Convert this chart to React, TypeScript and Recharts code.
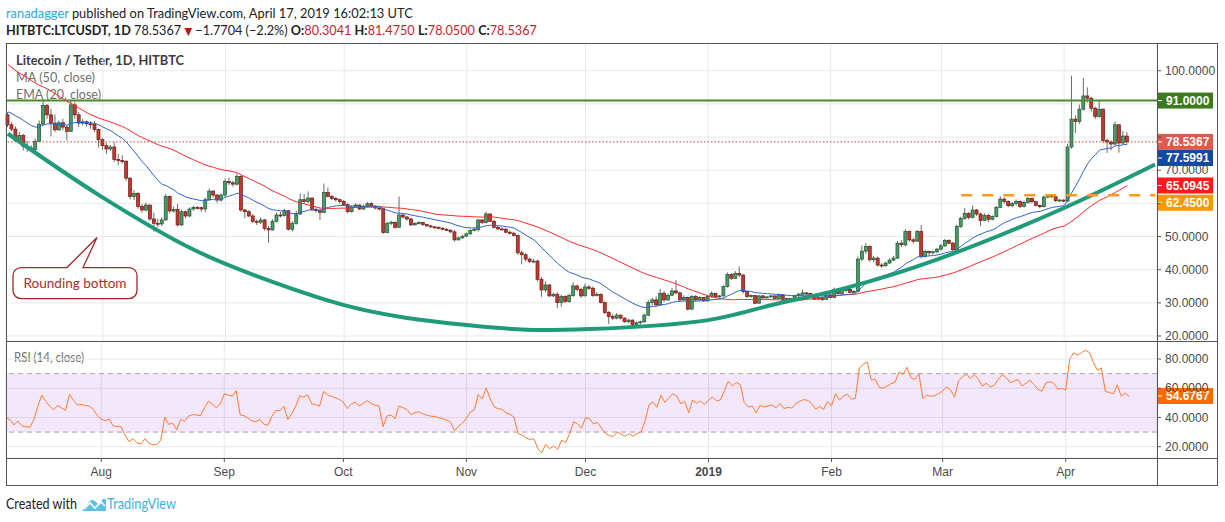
import React from "react";
import {
  ComposedChart,
  Bar,
  Line,
  XAxis,
  YAxis,
  CartesianGrid,
  ReferenceLine,
  ReferenceArea,
  ReferenceDot,
} from "recharts";

// LTC/USDT daily candles, HitBTC, 8 Jul 2018 .. 17 Apr 2019 (open = previous close)
const FIRST_DAY = Date.UTC(2018, 6, 8);
const EMPTY_DAYS_RIGHT = 7;

// closes before the first visible candle, only used to seed MA / EMA / RSI
const warmupCloses = [
  125, 130, 125, 118, 112, 116, 116, 116, 118, 112,
  119, 118, 120, 120, 123, 124, 117, 120, 121, 120,
  118, 116, 104, 106, 98, 94, 99, 95, 97, 95,
  98, 98, 98, 96, 86, 87, 82, 82, 78, 80,
  76, 79, 84, 83, 87, 87, 86, 84, 85, 86.7,
];

const closes = [
  83.7, 82.4, 79.0, 80.5, 77.2, 76.7, 76.3, 78.7, 83.9, 89.5,
  86.7, 84.2, 82.2, 84.3, 83.0, 81.7, 89.7, 86.7, 84.2, 84.6,
  84.0, 83.8, 82.3, 79.2, 77.4, 76.4, 77.0, 73.2, 72.9, 72.7,
  67.6, 62.1, 63.0, 59.1, 58.0, 59.5, 55.3, 54.0, 53.8, 55.0,
  62.1, 57.7, 58.2, 53.5, 57.5, 56.2, 58.3, 58.8, 58.7, 58.3,
  61.1, 63.7, 62.5, 61.0, 62.5, 66.6, 66.2, 65.8, 68.1, 58.0,
  57.5, 56.2, 54.6, 54.3, 55.0, 52.4, 52.0, 54.6, 56.5, 56.3,
  57.8, 52.2, 54.0, 56.8, 61.1, 60.6, 61.6, 58.2, 57.9, 57.3,
  63.3, 62.1, 61.5, 61.1, 60.6, 59.6, 57.5, 58.9, 59.5, 58.3,
  59.1, 59.9, 59.1, 58.6, 58.4, 51.2, 54.0, 54.3, 52.8, 56.5,
  55.9, 55.3, 53.5, 54.0, 54.2, 53.6, 53.2, 52.9, 52.8, 52.5,
  52.2, 51.9, 51.4, 49.0, 49.6, 50.1, 50.8, 51.8, 52.1, 55.0,
  54.2, 56.8, 54.6, 52.8, 52.3, 52.2, 51.3, 51.0, 50.3, 45.1,
  44.5, 43.2, 42.5, 42.6, 37.1, 33.9, 35.4, 32.1, 32.6, 30.1,
  31.9, 30.4, 32.2, 35.1, 34.1, 32.1, 34.8, 34.4, 32.2, 32.6,
  30.1, 27.1, 25.9, 25.4, 26.3, 25.4, 24.3, 24.8, 23.5, 24.0,
  24.3, 26.3, 30.1, 30.9, 29.4, 32.9, 30.9, 32.3, 33.6, 33.0,
  30.9, 31.6, 28.1, 31.9, 30.9, 31.6, 30.6, 31.9, 32.9, 31.8,
  32.1, 34.9, 38.6, 37.4, 38.9, 38.4, 33.4, 31.9, 32.2, 29.9,
  32.1, 31.5, 31.8, 32.1, 31.3, 32.4, 31.0, 31.3, 31.1, 32.1,
  32.6, 33.0, 32.8, 32.2, 31.1, 31.6, 31.0, 32.4, 31.6, 34.0,
  32.8, 33.7, 34.1, 33.2, 33.4, 43.2, 45.6, 47.0, 43.0, 43.5,
  41.4, 41.2, 42.0, 42.9, 43.5, 48.0, 47.5, 51.5, 49.0, 48.6,
  51.5, 44.0, 45.5, 45.1, 45.4, 46.2, 47.2, 48.8, 48.0, 46.0,
  53.0, 55.5, 57.0, 55.8, 58.0, 56.8, 54.8, 56.4, 55.2, 56.0,
  58.8, 61.3, 60.6, 59.3, 60.0, 60.6, 59.1, 60.3, 61.5, 60.5,
  59.4, 59.0, 61.9, 62.3, 62.0, 60.8, 61.0, 60.7, 77.0, 85.4,
  84.7, 88.4, 92.4, 91.7, 88.7, 86.2, 88.4, 79.0, 78.5, 77.9,
  83.7, 78.2, 80.3041, 78.5367,
];

const highs = [
  87.5, 84.5, 83.2, 81.5, 80.9, 78.8, 77.5, 79.5, 85.0, 91.5,
  90.0, 88.5, 86.8, 85.0, 85.5, 83.5, 91.0, 90.5, 87.5, 85.5,
  85.0, 84.8, 84.8, 82.5, 79.8, 78.2, 77.6, 78.4, 74.9, 74.5,
  73.0, 67.9, 64.0, 63.4, 59.8, 60.2, 59.6, 57.2, 55.4, 55.8,
  62.8, 62.4, 59.0, 59.8, 58.0, 57.8, 58.8, 59.3, 59.2, 59.0,
  61.8, 64.5, 64.0, 62.8, 63.0, 67.5, 67.8, 66.8, 69.0, 68.4,
  58.4, 57.9, 56.8, 55.2, 55.8, 55.3, 53.2, 55.2, 57.2, 57.4,
  58.4, 58.0, 54.6, 57.8, 63.0, 62.8, 63.6, 61.9, 58.8, 58.5,
  66.0, 64.8, 62.5, 62.0, 61.5, 61.0, 60.0, 59.4, 60.0, 59.7,
  59.6, 60.4, 60.4, 59.5, 59.0, 58.7, 54.5, 54.8, 54.6, 62.1,
  56.8, 56.2, 55.6, 54.3, 54.6, 54.5, 53.9, 53.5, 53.2, 53.0,
  52.8, 52.5, 52.2, 52.0, 50.0, 50.5, 51.2, 52.2, 52.8, 55.4,
  55.2, 57.5, 57.0, 55.0, 53.2, 52.8, 52.6, 51.8, 51.5, 50.6,
  45.8, 45.0, 43.6, 43.3, 43.0, 37.8, 36.5, 35.6, 33.0, 33.2,
  32.5, 32.3, 32.8, 36.2, 35.5, 34.6, 35.8, 35.3, 34.9, 33.2,
  32.8, 30.4, 27.5, 26.5, 26.9, 26.5, 25.6, 25.2, 25.0, 24.4,
  24.6, 26.8, 30.9, 31.6, 32.0, 34.2, 33.6, 32.8, 34.5, 36.9,
  33.4, 32.3, 31.9, 32.3, 32.4, 32.0, 31.8, 32.3, 33.4, 33.0,
  32.4, 35.3, 39.2, 38.9, 39.6, 41.0, 38.6, 33.6, 32.6, 32.4,
  32.4, 32.4, 32.0, 32.3, 32.2, 32.8, 32.6, 31.6, 31.5, 32.4,
  33.0, 34.0, 33.2, 33.0, 32.4, 31.9, 31.8, 32.7, 32.6, 34.6,
  34.4, 34.0, 34.5, 34.5, 33.8, 44.0, 47.3, 48.0, 47.3, 44.2,
  44.0, 42.0, 42.4, 43.4, 44.2, 48.7, 48.9, 52.2, 51.8, 49.6,
  52.0, 53.5, 46.0, 45.8, 45.8, 46.6, 47.8, 49.3, 49.2, 48.4,
  53.6, 56.0, 58.6, 57.4, 59.4, 58.3, 57.2, 57.0, 56.8, 56.4,
  59.2, 62.2, 61.8, 60.9, 60.4, 61.2, 60.9, 60.8, 61.9, 61.8,
  60.8, 59.6, 62.4, 62.7, 62.6, 62.2, 61.3, 61.2, 78.0, 98.5,
  86.5, 89.8, 97.8, 95.0, 92.2, 89.2, 91.0, 88.6, 79.6, 79.0,
  84.7, 83.9, 81.8, 81.475,
];

const lows = [
  83.0, 81.8, 78.5, 78.2, 76.0, 75.5, 75.8, 75.8, 78.5, 83.5,
  85.5, 80.2, 81.5, 81.8, 82.0, 79.0, 81.5, 85.5, 83.0, 83.5,
  83.2, 82.5, 81.5, 76.8, 76.2, 75.0, 75.8, 72.5, 71.5, 72.0,
  66.8, 61.2, 61.0, 58.4, 57.2, 57.5, 54.8, 51.5, 52.8, 53.2,
  54.8, 57.0, 57.2, 53.0, 53.2, 55.5, 55.8, 57.8, 58.2, 57.5,
  57.3, 60.8, 61.8, 60.2, 60.5, 62.0, 65.5, 65.0, 65.4, 57.5,
  55.5, 55.8, 54.0, 53.5, 53.8, 51.8, 48.1, 51.8, 54.2, 55.8,
  56.0, 51.8, 51.5, 53.6, 56.5, 59.8, 60.0, 57.8, 57.2, 55.0,
  57.2, 61.8, 61.0, 60.5, 60.0, 59.2, 57.0, 57.2, 58.6, 58.0,
  58.0, 58.8, 58.8, 58.2, 57.8, 50.8, 51.0, 53.5, 52.4, 52.6,
  55.4, 54.8, 53.2, 53.4, 53.6, 53.2, 52.9, 52.6, 52.5, 52.1,
  51.9, 51.6, 51.1, 48.5, 48.8, 49.2, 50.0, 50.6, 51.6, 51.5,
  53.8, 54.0, 54.3, 52.4, 51.9, 51.8, 51.0, 50.6, 50.0, 44.5,
  41.6, 42.5, 42.0, 42.0, 36.5, 31.8, 33.2, 31.8, 31.7, 28.4,
  28.8, 30.0, 30.0, 31.8, 33.5, 31.5, 32.0, 33.8, 31.8, 31.9,
  29.8, 26.6, 23.6, 24.8, 25.0, 25.0, 24.0, 24.0, 23.0, 23.1,
  23.5, 24.0, 26.0, 29.2, 29.0, 29.2, 30.3, 30.6, 32.0, 32.7,
  30.4, 30.6, 27.8, 28.0, 30.6, 30.6, 30.3, 30.4, 31.6, 31.5,
  31.6, 31.9, 34.6, 37.0, 37.2, 37.8, 32.8, 31.5, 31.6, 29.6,
  29.8, 31.2, 31.3, 31.6, 31.0, 31.2, 30.8, 30.8, 30.8, 30.9,
  31.9, 32.4, 32.5, 31.9, 30.9, 30.8, 30.6, 30.9, 31.3, 31.4,
  32.5, 32.6, 33.3, 33.0, 32.9, 33.2, 42.6, 44.8, 42.4, 42.3,
  40.9, 40.6, 40.9, 41.8, 42.6, 43.2, 46.8, 47.0, 48.4, 48.0,
  48.4, 43.4, 43.6, 44.2, 44.6, 45.0, 45.8, 46.8, 47.6, 45.6,
  45.9, 52.6, 55.0, 55.2, 55.5, 56.2, 53.2, 54.6, 54.4, 54.9,
  55.8, 58.6, 60.0, 58.8, 58.8, 59.3, 58.6, 58.8, 60.0, 60.0,
  59.0, 58.5, 58.8, 61.5, 61.6, 60.4, 60.5, 60.3, 60.5, 76.5,
  81.2, 84.0, 88.0, 90.4, 87.6, 85.4, 85.8, 78.2, 75.2, 76.0,
  77.4, 75.3, 77.8, 78.05,
];

// hand-drawn "rounding bottom" arc: day index -> price
const arcDays = [0, 23, 47, 71, 85, 116, 135, 147, 177, 195, 208, 221, 267, 290];
const arcPrices = [81, 62.5, 46, 34.6, 29.3, 23.3, 21.8, 22.1, 24.8, 29.9, 33.3, 37.6, 58.6, 71.7];

const priceTicks = [20, 30, 40, 50, 60, 70, 80, 90, 100];
const hiddenPriceLabels = [60, 80, 90];
const rsiTicks = [20, 40, 60, 80];
const MONTHS = ["Jan", "Feb", "Mar", "Apr", "May", "Jun", "Jul", "Aug", "Sep", "Oct", "Nov", "Dec"];

const RESISTANCE = 91;
const SUPPORT = 62.45;
const SUPPORT_FROM_DAY = 241;
const LAST_CLOSE = 78.5367;
const EMA_LAST = 77.5991;
const MA_LAST = 65.0945;
const RSI_LAST = 54.6767;
const CALLOUT_DAY = 22;
const CALLOUT_PRICE = 49.7;

// ---- indicators (computed from closes, like the platform does) ----
const allCloses = [...warmupCloses, ...closes];
const WARM = warmupCloses.length;

const ma50 = closes.map((_, k) => {
  const i = WARM + k;
  let s = 0;
  for (let j = i - 49; j <= i; j++) s += allCloses[j];
  return s / 50;
});

const ema20 = (() => {
  const a = 2 / 21;
  let e = allCloses.slice(0, 20).reduce((s, v) => s + v, 0) / 20;
  const out: number[] = [];
  for (let i = 20; i < allCloses.length; i++) {
    e = allCloses[i] * a + e * (1 - a);
    if (i >= WARM) out.push(e);
  }
  return out;
})();

const rsi14 = (() => {
  let g = 0;
  let l = 0;
  for (let i = 1; i <= 14; i++) {
    const d = allCloses[i] - allCloses[i - 1];
    if (d > 0) g += d;
    else l -= d;
  }
  g /= 14;
  l /= 14;
  const out: number[] = [];
  for (let i = 15; i < allCloses.length; i++) {
    const d = allCloses[i] - allCloses[i - 1];
    g = (g * 13 + Math.max(d, 0)) / 14;
    l = (l * 13 + Math.max(-d, 0)) / 14;
    if (i >= WARM) out.push(l === 0 ? 100 : 100 - 100 / (1 + g / l));
  }
  return out;
})();

const rows = Array.from({ length: closes.length + EMPTY_DAYS_RIGHT }, (_, k) => {
  const has = k < closes.length;
  const arcIdx = arcDays.indexOf(k);
  return {
    date: new Date(FIRST_DAY + k * 86400000).toISOString().slice(0, 10),
    open: has ? (k === 0 ? warmupCloses[WARM - 1] : closes[k - 1]) : null,
    close: has ? closes[k] : null,
    high: has ? highs[k] : null,
    low: has ? lows[k] : null,
    ma50: has ? ma50[k] : null,
    ema20: has ? ema20[k] : null,
    rsi: has ? rsi14[k] : null,
    arc: arcIdx >= 0 ? arcPrices[arcIdx] : null,
  };
});

const monthTicks = rows.filter((r) => r.date.endsWith("-01")).map((r) => r.date);

const FONT = "Lato, 'Open Sans', 'DejaVu Sans', sans-serif";
const AXIS_FONT = "'Liberation Sans Narrow', 'Liberation Sans', Arial, sans-serif";
const RED_TXT = "#c0282d";

function Candle(props: any) {
  const { x, y, width, height, payload } = props;
  if (!payload || payload.high == null || !Number.isFinite(y)) return <g />;
  const { open, close, high, low } = payload;
  const top = Math.min(y, y + height);
  const h = Math.abs(height);
  const ppu = h / (high - low || 1);
  const py = (v: number) => top + (high - v) * ppu;
  const cx = x + width / 2;
  const up = close >= open;
  const bodyTop = py(Math.max(open, close));
  const bodyH = Math.max(1, py(Math.min(open, close)) - bodyTop);
  const bw = Math.max(2, width);
  return (
    <g>
      <line x1={cx} x2={cx} y1={top} y2={top + h} stroke="#6b6b6b" strokeWidth={1} />
      <rect
        x={cx - bw / 2}
        y={bodyTop}
        width={bw}
        height={bodyH}
        fill={up ? "#4a9966" : "#c5372c"}
        stroke={up ? "#1f5734" : "#6e1b15"}
        strokeWidth={0.7}
      />
    </g>
  );
}

function PriceTag(props: any) {
  const { viewBox, text, bg, dy = 0 } = props;
  if (!viewBox) return null;
  const x = viewBox.x + viewBox.width;
  const y = viewBox.y + dy;
  return (
    <g>
      <rect x={x} y={y - 8} width={56} height={16} fill={bg} />
      <line x1={x + 1} x2={x + 5} y1={y} y2={y} stroke="#fff" />
      <text x={x + 9} y={y} dy="0.36em" fill="#fff" fontSize={12} fontWeight="bold" fontFamily={AXIS_FONT}>
        {text}
      </text>
    </g>
  );
}

function Callout(props: any) {
  const { cx, cy } = props;
  if (!Number.isFinite(cx)) return <g />;
  const tx = cx + 2;
  const ty = cy;
  const L = tx - 84;
  const R = tx + 40;
  const T = ty + 30;
  const B = ty + 61;
  const r = 8;
  const d = `M${L + r},${T} H${tx - 30} L${tx},${ty} L${tx - 14},${T} H${R - r} A${r},${r} 0 0 1 ${R},${T + r} V${B - r} A${r},${r} 0 0 1 ${R - r},${B} H${L + r} A${r},${r} 0 0 1 ${L},${B - r} V${T + r} A${r},${r} 0 0 1 ${L + r},${T} Z`;
  return (
    <g>
      <path d={d} fill="#fff" stroke="#a3262a" strokeWidth={1.3} />
      <text
        x={(L + R) / 2}
        y={(T + B) / 2}
        dy="0.36em"
        textAnchor="middle"
        fill="#a8302f"
        fontSize={14}
        fontFamily={FONT}
        textLength={103}
        lengthAdjust="spacingAndGlyphs"
      >
        Rounding bottom
      </text>
    </g>
  );
}

function MonthTick(props: any) {
  const { x, y, payload } = props;
  const m = Number(String(payload.value).slice(5, 7));
  const isYear = m === 1;
  return (
    <text
      x={x}
      y={y}
      dy={12}
      textAnchor="middle"
      fill="#4a4a4a"
      fontSize={12}
      fontWeight={isYear ? "bold" : "normal"}
      fontFamily={AXIS_FONT}
    >
      {isYear ? String(payload.value).slice(0, 4) : MONTHS[m - 1]}
    </text>
  );
}

// a header line, squeezed horizontally to the width it has in the snapshot
function FitLine({ top, width, children }: any) {
  const ref = React.useRef<HTMLSpanElement>(null);
  const [k, setK] = React.useState(1);
  React.useLayoutEffect(() => {
    const w = ref.current ? ref.current.offsetWidth : 0;
    if (w > 0) setK(width / w);
  }, [width]);
  return (
    <div
      style={{
        position: "absolute",
        left: 6,
        top,
        height: 16,
        lineHeight: "16px",
        fontSize: 14,
        color: "#222",
        whiteSpace: "nowrap",
        transform: `scaleX(${k})`,
        transformOrigin: "0 0",
      }}
    >
      <span ref={ref}>{children}</span>
    </div>
  );
}

const candleRange = (r: any) => (r.high == null ? null : [r.low, r.high]);

export default function App() {
  const red = { color: RED_TXT };
  return (
    <div
      style={{
        position: "absolute",
        left: 0,
        top: 0,
        width: 1225,
        height: 522,
        background: "#fff",
        fontFamily: FONT,
        overflow: "hidden",
      }}
    >
      {/* legends and footer (behind the charts) */}
      <svg width={1225} height={522} style={{ position: "absolute", left: 0, top: 0 }}>
        <text x={16} y={65} fontSize={14} fontWeight="bold" fill="#3d3d3d" textLength={168} lengthAdjust="spacingAndGlyphs">
          Litecoin / Tether, 1D, HITBTC
        </text>
        <text x={16} y={82} fontSize={14} fill="#707070" textLength={79} lengthAdjust="spacingAndGlyphs">
          MA (50, close)
        </text>
        <text x={16} y={99} fontSize={14} fill="#707070" textLength={85} lengthAdjust="spacingAndGlyphs">
          EMA (20, close)
        </text>
        <text x={14} y={362} fontSize={14} fill="#707070" textLength={70} lengthAdjust="spacingAndGlyphs">
          RSI (14, close)
        </text>

        <text x={6} y={509} fontSize={15} fill="#222" textLength={71} lengthAdjust="spacingAndGlyphs">
          Created with
        </text>
        <path
          d="M82 511 L89 502 Q92 498 96 502 L99 505 L102 500 Q104 497 106 500 L106 511 Z"
          fill="#5bc0ea"
        />
        <polyline points="84,509 90,503 95,508 101,502 105,506" fill="none" stroke="#fff" strokeWidth={1.6} />
        <text x={107} y={509} fontSize={15} fill="#45aee3" textLength={69} lengthAdjust="spacingAndGlyphs">
          TradingView
        </text>
      </svg>

      {/* snapshot header */}
      <FitLine top={5} width={407}>
        <span style={{ color: "#35a5dd" }}>ranadagger</span> published on TradingView.com, April 17, 2019
        16:02:13 UTC
      </FitLine>
      <FitLine top={22} width={531}>
        <b>HITBTC:LTCUSDT, 1D</b> 78.5367 <span style={{ color: "#a51d1d", fontSize: 11 }}>▼</span>{" "}
        −1.7704 (−2.2%) <b>O:</b>
        <span style={red}>80.3041</span> <b>H:</b>
        <span style={red}>81.4750</span> <b>L:</b>
        <span style={red}>78.0500</span> <b>C:</b>
        <span style={red}>78.5367</span>
      </FitLine>

      {/* price pane (extra 8px at the bottom so the lowest axis label is not clipped) */}
      <div style={{ position: "absolute", left: 0, top: 43 }}>
        <ComposedChart
          width={1225}
          height={306}
          data={rows}
          margin={{ top: 0, right: 0, bottom: 8, left: 6 }}
        >
          <CartesianGrid stroke="#e8e8e8" />
          <XAxis dataKey="date" hide ticks={monthTicks} interval={0} />
          <YAxis
            orientation="right"
            width={68}
            domain={[18.5, 108.36]}
            allowDataOverflow
            ticks={priceTicks}
            interval={0}
            tickFormatter={(v: number) => (hiddenPriceLabels.includes(v) ? "" : v.toFixed(4))}
            tick={{ fill: "#4a4a4a", fontSize: 12, fontFamily: AXIS_FONT }}
            tickLine={{ stroke: "#555" }}
            tickSize={4}
            tickMargin={4}
            axisLine={false}
          />
          <ReferenceLine y={RESISTANCE} stroke="#4b8a2c" strokeWidth={2} />
          <Bar dataKey={candleRange} barSize={3} shape={(p: any) => <Candle {...p} />} isAnimationActive={false} />
          <Line dataKey="ma50" stroke="#ff2a2a" strokeWidth={1} dot={false} isAnimationActive={false} />
          <Line dataKey="ema20" stroke="#2f63cc" strokeWidth={1} dot={false} isAnimationActive={false} />
          <Line
            dataKey="arc"
            type="monotone"
            stroke="#1f9a7b"
            strokeWidth={4}
            connectNulls
            dot={false}
            activeDot={false}
            isAnimationActive={false}
          />
          <ReferenceLine y={LAST_CLOSE} stroke="#cf3f36" strokeDasharray="1.5 2" />
          <ReferenceLine
            segment={[
              { x: rows[SUPPORT_FROM_DAY].date, y: SUPPORT },
              { x: rows[rows.length - 1].date, y: SUPPORT },
            ]}
            stroke="#ff9a1a"
            strokeWidth={2.5}
            strokeDasharray="11 10"
          />
          <ReferenceDot
            x={rows[CALLOUT_DAY].date}
            y={CALLOUT_PRICE}
            r={0}
            shape={(p: any) => <Callout {...p} />}
          />
          <ReferenceLine y={RESISTANCE} stroke="none" label={<PriceTag text="91.0000" bg="#3b7a1f" />} />
          <ReferenceLine y={LAST_CLOSE} stroke="none" label={<PriceTag text="78.5367" bg="#dc5a4e" />} />
          <ReferenceLine y={EMA_LAST} stroke="none" label={<PriceTag text="77.5991" bg="#1249a3" dy={13} />} />
          <ReferenceLine y={MA_LAST} stroke="none" label={<PriceTag text="65.0945" bg="#ff1a1a" dy={-1} />} />
          <ReferenceLine y={SUPPORT} stroke="none" label={<PriceTag text="62.4500" bg="#ff9800" dy={7.5} />} />
        </ComposedChart>
      </div>

      {/* RSI pane + time axis */}
      <div style={{ position: "absolute", left: 0, top: 341 }}>
        <ComposedChart
          width={1225}
          height={144}
          data={rows}
          margin={{ top: 0, right: 0, bottom: 0, left: 6 }}
        >
          <ReferenceArea y1={30} y2={70} fill="#870fe1" fillOpacity={0.1} stroke="none" />
          <CartesianGrid stroke="#e8e8e8" />
          <XAxis
            dataKey="date"
            ticks={monthTicks}
            interval={0}
            height={27}
            tick={<MonthTick />}
            tickLine={{ stroke: "#555" }}
            tickSize={4}
            axisLine={false}
          />
          <YAxis
            orientation="right"
            width={68}
            domain={[12.27, 92.31]}
            allowDataOverflow
            ticks={rsiTicks}
            interval={0}
            tickFormatter={(v: number) => v.toFixed(4)}
            tick={{ fill: "#4a4a4a", fontSize: 12, fontFamily: AXIS_FONT }}
            tickLine={{ stroke: "#555" }}
            tickSize={4}
            tickMargin={4}
            axisLine={false}
          />
          <ReferenceLine y={70} stroke="#a9a2b3" strokeDasharray="5 4" />
          <ReferenceLine y={30} stroke="#a9a2b3" strokeDasharray="5 4" />
          <Line dataKey="rsi" stroke="#ff7a2e" strokeWidth={1} dot={false} isAnimationActive={false} />
          <ReferenceLine y={RSI_LAST} stroke="none" label={<PriceTag text="54.6767" bg="#ff6a00" />} />
        </ComposedChart>
      </div>

      {/* pane frame */}
      <svg
        width={1225}
        height={522}
        style={{ position: "absolute", left: 0, top: 0, pointerEvents: "none" }}
      >
        <g stroke="#555" strokeWidth={1} fill="none" shapeRendering="crispEdges">
          <rect x={6} y={43} width={1211} height={442} />
          <line x1={6} x2={1217} y1={341} y2={341} />
          <line x1={6} x2={1217} y1={458} y2={458} />
          <line x1={1157} x2={1157} y1={43} y2={485} />
        </g>
      </svg>
    </div>
  );
}
